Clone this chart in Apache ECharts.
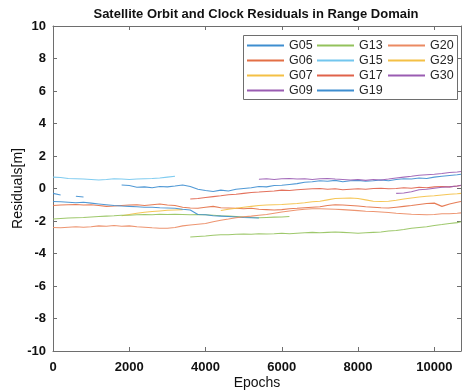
<!DOCTYPE html>
<html>
<head>
<meta charset="utf-8">
<script src="https://cdn.jsdelivr.net/npm/echarts@6/dist/echarts.min.js"></script>
<style>
html,body{margin:0;padding:0;background:#fff;}
#chart{width:463px;height:391px;}
</style>
</head>
<body>
<div id="chart"></div>
<script>
// Epochs (shared x positions of the samples)
const epochs = [0,200,400,600,800,1000,1200,1400,1600,1800,2000,2200,2400,2600,2800,3000,3200,3400,3600,3800,4000,4200,4400,4600,4800,5000,5200,5400,5600,5800,6000,6200,6400,6600,6800,7000,7200,7400,7600,7800,8000,8200,8400,8600,8800,9000,9200,9400,9600,9800,10000,10200,10400,10600,10700];

const _ = null;
const g05 = [-0.30,-0.40,_,-0.48,-0.52,_,_,_,_,0.22,0.18,0.08,0.10,0.05,0.12,0.10,0.15,0.22,0.12,-0.05,-0.12,-0.18,-0.10,-0.15,-0.05,0.00,0.05,0.12,0.10,0.18,0.20,0.25,0.30,0.38,0.42,0.48,0.45,0.50,0.42,0.48,0.50,0.45,0.48,0.52,0.48,0.55,0.60,0.58,0.65,0.62,0.70,0.75,0.80,0.85,0.88];
const g06 = [-1.05,-1.02,-1.00,-0.98,-1.02,-1.00,-1.05,-1.10,-1.08,-1.05,-1.02,-1.00,-1.05,-1.00,-0.95,-1.02,-1.05,-1.15,-1.20,-1.22,-1.15,-1.10,-1.18,-1.20,-1.22,-1.25,-1.22,-1.28,-1.30,-1.32,-1.30,-1.25,-1.22,-1.18,-1.15,-1.12,-1.05,-1.00,-1.02,-1.05,-1.08,-1.12,-1.15,-1.18,-1.20,-1.15,-1.10,-1.05,-0.98,-0.92,-0.90,-1.10,-0.95,-0.85,-0.80];
const g07 = [_,_,_,_,_,_,_,_,_,-1.68,-1.60,-1.52,-1.46,-1.42,-1.38,-1.34,-1.32,-1.30];
const g09 = [_,_,_,_,_,_,_,_,_,_,_,_,_,_,_,_,_,_,_,_,_,_,_,_,_,_,_,0.57,0.60,0.55,0.60,0.62,0.58,0.60,0.55,0.60,0.62,0.58,0.55,0.52,0.55,0.50,0.55,0.52,0.58,0.65,0.70,0.75,0.82,0.85,0.88,0.92,0.98,1.02,1.05];
const g13a = [-1.88,-1.85,-1.82,-1.80,-1.78,-1.75,-1.72,-1.70,-1.68,-1.65,-1.65,-1.62,-1.60,-1.62,-1.58,-1.60,-1.58,-1.60,-1.62,-1.60,-1.62,-1.65,-1.68,-1.70,-1.72,-1.75,-1.78,-1.80,-1.78,-1.76,-1.75,-1.72];
const g13b = [_,_,_,_,_,_,_,_,_,_,_,_,_,_,_,_,_,_,-2.98,-2.95,-2.92,-2.88,-2.85,-2.85,-2.82,-2.80,-2.82,-2.78,-2.80,-2.78,-2.75,-2.78,-2.75,-2.72,-2.70,-2.72,-2.70,-2.68,-2.70,-2.72,-2.75,-2.72,-2.70,-2.68,-2.62,-2.58,-2.52,-2.45,-2.40,-2.35,-2.28,-2.22,-2.15,-2.10,-2.05];
const g15 = [0.70,0.68,0.62,0.60,0.58,0.55,0.52,0.55,0.60,0.58,0.55,0.58,0.60,0.62,0.65,0.70,0.75];
const g17 = [_,_,_,_,_,_,_,_,_,_,_,_,_,_,_,_,_,_,-0.65,-0.62,-0.55,-0.50,-0.45,-0.38,-0.35,-0.30,-0.25,-0.22,-0.18,-0.15,-0.10,-0.12,-0.08,-0.05,-0.02,0.00,-0.05,-0.02,-0.08,-0.05,-0.02,-0.05,0.00,0.02,-0.02,0.00,0.05,0.02,0.08,0.05,0.10,0.12,0.10,0.15,0.18];
const g19 = [-0.80,-0.82,-0.85,-0.88,-0.85,-0.90,-0.95,-1.00,-1.05,-1.08,-1.10,-1.12,-1.15,-1.15,-1.18,-1.20,-1.22,-1.28,-1.32,-1.60,-1.62,-1.68,-1.70,-1.72,-1.75,-1.78,-1.80,-1.82];
const g20 = [-2.40,-2.42,-2.38,-2.35,-2.38,-2.35,-2.30,-2.32,-2.28,-2.32,-2.30,-2.35,-2.38,-2.42,-2.45,-2.45,-2.40,-2.30,-2.25,-2.20,-2.15,-2.05,-1.95,-1.88,-1.80,-1.74,-1.70,-1.65,-1.60,-1.52,-1.45,-1.38,-1.32,-1.28,-1.25,-1.25,-1.26,-1.28,-1.30,-1.33,-1.36,-1.40,-1.42,-1.45,-1.48,-1.52,-1.55,-1.58,-1.60,-1.62,-1.60,-1.55,-1.55,-1.52,-1.50];
const g29 = [_,_,_,_,_,_,_,_,_,_,_,_,_,_,_,_,_,_,_,_,_,_,-1.35,-1.28,-1.22,-1.15,-1.10,-1.05,-1.02,-1.00,-0.98,-0.95,-0.92,-0.88,-0.82,-0.78,-0.70,-0.62,-0.60,-0.58,-0.62,-0.70,-0.78,-0.80,-0.78,-0.72,-0.65,-0.58,-0.52,-0.48,-0.45,-0.40,-0.35,-0.32,-0.30];
const g30 = [_,_,_,_,_,_,_,_,_,_,_,_,_,_,_,_,_,_,_,_,_,_,_,_,_,_,_,_,_,_,_,_,_,_,_,_,_,_,_,_,_,_,_,_,_,-0.30,-0.28,-0.20,-0.08,-0.05,0.02,0.08,0.10,0.15,0.20];

const yTicks = [-10,-8,-6,-4,-2,0,2,4,6,8,10];
const xTicks = [0,2000,4000,6000,8000,10000];

const colors = {
  G05:'#3e8ed0', G06:'#e36f45', G07:'#f4c045', G09:'#9a5cb2', G13:'#93c25c', G15:'#72c6ee',
  G17:'#e0624a', G19:'#3e8ed0', G20:'#eb8a62', G29:'#f4c045', G30:'#9a5cb2'
};

function toData(arr){
  return epochs.map((e,i)=>{
    const v = arr[i];
    return (v===null || v===undefined) ? [e,'-'] : [e,v];
  });
}
function mk(name, arr){
  return {
    name: name, type:'line', data: toData(arr), showSymbol:false, symbol:'none',
    connectNulls:false, animation:false, xAxisIndex:0, yAxisIndex:0,
    lineStyle:{color:colors[name], width:1.1, opacity:0.9},
    itemStyle:{color:colors[name]}
  };
}

const series = [
  mk('G05',g05), mk('G06',g06), mk('G07',g07), mk('G09',g09), mk('G13',g13a), mk('G13',g13b),
  mk('G15',g15), mk('G17',g17), mk('G19',g19), mk('G20',g20), mk('G29',g29), mk('G30',g30)
];

const FONT = 'Liberation Sans, Arial, sans-serif';
const legendBase = {
  orient:'vertical', icon:'rect', itemWidth:37, itemHeight:2, itemGap:2, padding:0,
  textStyle:{fontSize:12.5, color:'#262626', fontFamily:FONT},
  z:5, selectedMode:false
};

const axisLineStyle = {color:'#6e6e6e', width:1};

const chart = echarts.init(document.getElementById('chart'), null, {renderer:'canvas'});
chart.setOption({
  animation:false,
  backgroundColor:'#ffffff',
  title:{
    text:'Satellite Orbit and Clock Residuals in Range Domain',
    left:256, top:8, textAlign:'center', padding:0,
    textStyle:{fontSize:13, fontWeight:'bold', color:'#111', fontFamily:FONT}
  },
  grid:{left:53, right:2, top:26, bottom:40, containLabel:false, outerBoundsMode:'none'},
  legend:[
    Object.assign({}, legendBase, {left:247, top:39, data:['G05','G06','G07','G09']}),
    Object.assign({}, legendBase, {left:317, top:39, data:['G13','G15','G17','G19']}),
    Object.assign({}, legendBase, {left:388, top:39, data:['G20','G29','G30']})
  ],
  graphic:[{
    type:'rect', z:4, shape:{x:243.5, y:35.5, width:214, height:64},
    style:{fill:'#ffffff', stroke:'#6e6e6e', lineWidth:1}
  }],
  xAxis:[{
    type:'value', min:0, max:10700, interval:2000, position:'bottom',
    name:'Epochs', nameLocation:'middle', nameGap:25, nameMoveOverlap:false,
    nameTextStyle:{fontSize:14, color:'#111', fontFamily:FONT},
    axisLine:{show:true, onZero:false, lineStyle:axisLineStyle},
    axisTick:{show:true, inside:true, length:4, lineStyle:{color:'#6e6e6e'}},
    axisLabel:{showMaxLabel:false, fontSize:13, fontWeight:'bold', color:'#111', margin:10, fontFamily:FONT,
      formatter:function(v){ return xTicks.indexOf(v)>=0 ? String(v) : ''; }},
    splitLine:{show:false}
  },{
    type:'value', min:0, max:10700, interval:2000, position:'top',
    axisLine:{show:true, onZero:false, lineStyle:axisLineStyle},
    axisTick:{show:true, inside:true, length:4, lineStyle:{color:'#6e6e6e'}},
    axisLabel:{show:false}, splitLine:{show:false}
  }],
  yAxis:[{
    type:'value', min:-10, max:10, interval:2, position:'left',
    name:'Residuals[m]', nameLocation:'middle', nameGap:28, nameMoveOverlap:false,
    nameTextStyle:{fontSize:14, color:'#111', fontFamily:FONT},
    axisLine:{show:true, onZero:false, lineStyle:axisLineStyle},
    axisTick:{show:true, inside:true, length:4, lineStyle:{color:'#6e6e6e'}},
    axisLabel:{fontSize:13, fontWeight:'bold', color:'#111', margin:7, fontFamily:FONT,
      formatter:function(v){ return yTicks.indexOf(v)>=0 ? String(v) : ''; }},
    splitLine:{show:false}
  },{
    type:'value', min:-10, max:10, interval:2, position:'right',
    axisLine:{show:true, onZero:false, lineStyle:axisLineStyle},
    axisTick:{show:true, inside:true, length:4, lineStyle:{color:'#6e6e6e'}},
    axisLabel:{show:false}, splitLine:{show:false}
  }],
  series: series
});
</script>
</body>
</html>
